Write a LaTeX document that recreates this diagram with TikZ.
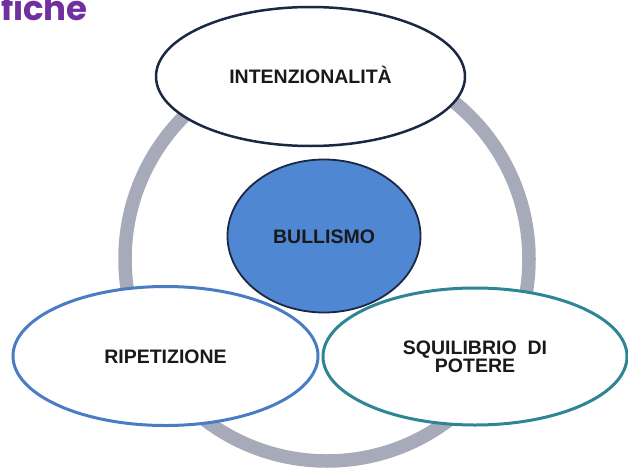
\documentclass[tikz,border=0pt]{standalone}
\usepackage{fontspec}
\setmainfont{Liberation Sans}
\newfontfamily\titlefont{Poppins}
\usetikzlibrary{shapes.geometric}
\definecolor{navy}{HTML}{1B2844}
\definecolor{eblue}{HTML}{4A7CC6}
\definecolor{eteal}{HTML}{2E8596}
\definecolor{cfill}{HTML}{4F87D3}
\definecolor{ringgray}{HTML}{A7AAB8}
\definecolor{titlepurple}{HTML}{7030A0}
\tikzset{
  oval/.style={ellipse, fill=white, inner sep=0pt, outer sep=0pt,
    font=\bfseries\fontsize{19.5}{18}\selectfont, align=center, text=black!90},
  caps/.style={text height=14pt, text depth=0pt},
}
\begin{document}
\begin{tikzpicture}[x=1pt,y=-1pt]
\useasboundingbox (0,0) rectangle (628,471);
\clip (0,0) rectangle (628,471);
% title fragment
\node[anchor=base east, inner sep=0pt, text=titlepurple,
  font=\titlefont\bfseries\fontsize{34}{34}\selectfont] (title) at (88,20) {specifiche};
% ring
\draw[ringgray, line width=13.5pt] (327,259) circle[radius=202pt];
% lower ellipses
\node[oval, draw=eblue, line width=3pt, minimum width=305pt, minimum height=139pt, caps] (rip) at (165.5,356) {RIPETIZIONE};
\node[oval, draw=eteal, line width=3pt, minimum width=304pt, minimum height=137pt] (squ) at (475,356.5) {SQUILIBRIO\ \ DI\\POTERE};
% centre circle
\node[ellipse, fill=cfill, draw=navy, line width=1.8pt, minimum width=193pt, minimum height=153pt,
  inner sep=0pt, font=\bfseries\fontsize{19.5}{18}\selectfont, text=black!90, caps] (bul) at (324,236) {BULLISMO};
% top ellipse
\node[oval, draw=navy, line width=2.5pt, minimum width=309pt, minimum height=139pt] (int) at (310.5,76.5) {\raisebox{0pt}[14pt][0pt]{INTENZIONALIT\`A}};
\end{tikzpicture}
\end{document}
